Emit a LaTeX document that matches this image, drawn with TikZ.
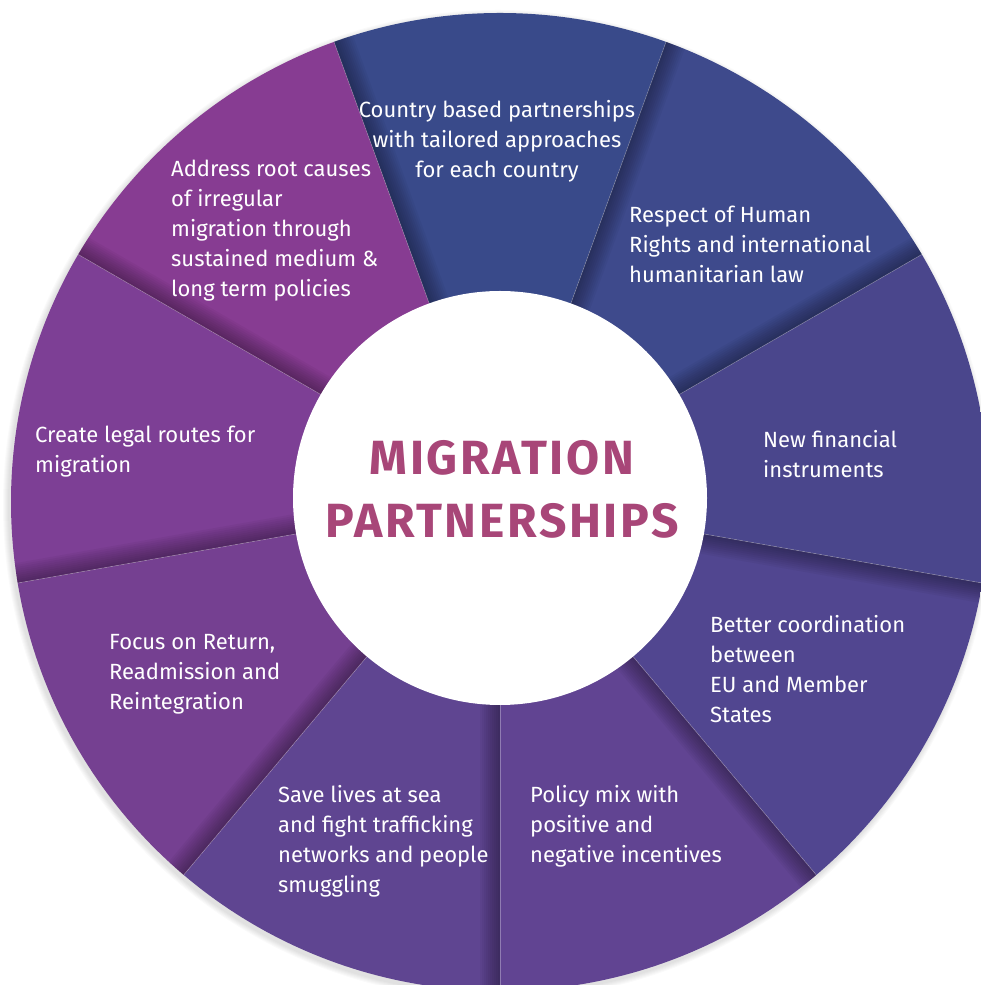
\documentclass[tikz,border=0pt]{standalone}
\usepackage{fontspec}
\setmainfont{Fira Sans}
\usetikzlibrary{calc}
\definecolor{cCountry}{HTML}{394A8A}
\definecolor{cRespect}{HTML}{3E4A8C}
\definecolor{cNew}{HTML}{4A468C}
\definecolor{cBetter}{HTML}{514690}
\definecolor{cPolicy}{HTML}{614492}
\definecolor{cSave}{HTML}{5F4591}
\definecolor{cFocus}{HTML}{754091}
\definecolor{cCreate}{HTML}{7D3F95}
\definecolor{cAddress}{HTML}{873C92}
\definecolor{cTitle}{HTML}{A84678}
\newcommand\wlines[1]{\begin{tabular}[t]{@{}l@{}}#1\end{tabular}}
\newcommand\clines[1]{\begin{tabular}[t]{@{}c@{}}#1\end{tabular}}
\begin{document}
\begin{tikzpicture}[x=1pt,y=1pt,
  lbl/.style={text=white, inner sep=0pt, anchor=base west, font=\fontsize{22}{30}\selectfont},
  ttl/.style={text=cTitle, inner sep=0pt, anchor=base, font=\fontsize{48}{63}\selectfont\bfseries\addfontfeatures{LetterSpace=5.5}}]
\useasboundingbox (0,0) rectangle (980,985);
\coordinate (C) at (500,487);
\coordinate (O) at (500,483);
% soft drop shadow of the wheel
\foreach \k in {1,...,6} \fill[black,opacity=0.02] ($(O)+(-2,-3)$) circle [radius=489+\k];
\begin{scope}
  \clip (O) circle [radius=489];
  \fill[cCountry] (C) -- +(70:700) -- +(110:700) -- cycle;
  \fill[cRespect] (C) -- +(30:700) -- +(70:700) -- cycle;
  \fill[cNew] (C) -- +(-10:700) -- +(30:700) -- cycle;
  \fill[cBetter] (C) -- +(-50:700) -- +(-10:700) -- cycle;
  \fill[cPolicy] (C) -- +(-90:700) -- +(-50:700) -- cycle;
  \fill[cSave] (C) -- +(-130:700) -- +(-90:700) -- cycle;
  \fill[cFocus] (C) -- +(-170:700) -- +(-130:700) -- cycle;
  \fill[cCreate] (C) -- +(150:700) -- +(190:700) -- cycle;
  \fill[cAddress] (C) -- +(110:700) -- +(150:700) -- cycle;
  % shadows along the boundaries
  \foreach \b/\d/\s/\e in {70/-20/30/70, 30/120/30/70, -10/-100/-50/-10, -50/-140/-90/-50,
      -90/-180/-130/-90, -130/140/-170/-130, 190/100/150/190, 150/60/110/150, 110/20/70/110} {
    \pgfmathsetmacro\bb{\b+180}
    \begin{scope}
      \clip (C) -- +(\s:700) -- +(\e:700) -- cycle;
      \foreach \k in {1,...,10} {
        \pgfmathsetmacro\w{2*\k}
        \fill[black,opacity=0.035] (C) -- ++(\b:700) -- ++(\d:\w) -- ++(\bb:700) -- cycle;
      }
    \end{scope}
  }
  \foreach \b in {70,30,-10,-50,-90,-130,190,150,110}
    \draw[white,opacity=0.3,line width=0.6pt] (C) -- +(\b:700);
\end{scope}
\fill[white] (C) circle [radius=207];
% labels
\node[lbl,anchor=base] (country) at (497,867) {\clines{Country based partnerships\\with tailored approaches\\for each country}};
\node[lbl] (respect) at (629,762) {\wlines{Respect of Human\\Rights and international\\humanitarian law}};
\node[lbl] (financial) at (763,537) {\wlines{New financial\\instruments}};
\node[lbl] (better) at (710,352) {\wlines{Better coordination\\between\\EU and Member\\States}};
\node[lbl] (policy) at (530,182) {\wlines{Policy mix with\\positive and\\negative incentives}};
\node[lbl] (save) at (278,182) {\wlines{Save lives at sea\\and fight trafficking\\networks and people\\smuggling}};
\node[lbl] (focus) at (109,335) {\wlines{Focus on Return,\\Readmission and\\Reintegration}};
\node[lbl] (create) at (35,542) {\wlines{Create legal routes for\\migration}};
\node[lbl] (address) at (171,808) {\wlines{Address root causes\\of irregular\\migration through\\sustained medium \&\\long term policies}};
\node[ttl] (title) at (502,510) {\clines{MIGRATION\\PARTNERSHIPS}};
\end{tikzpicture}
\end{document}
